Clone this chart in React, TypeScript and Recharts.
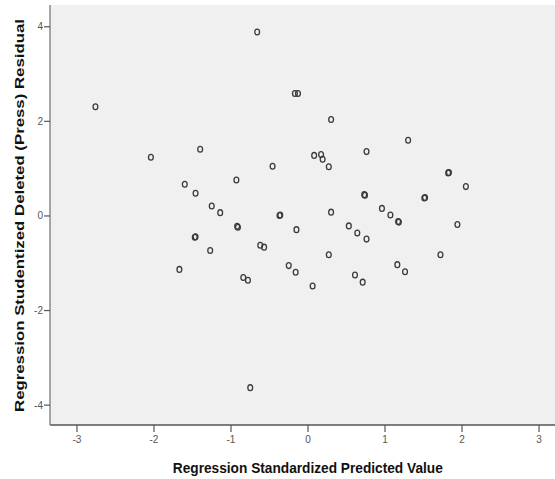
import React from 'react';
import { ScatterChart, Scatter, XAxis, YAxis, CartesianGrid } from 'recharts';

const predicted = [
  -2.76, -2.04, -1.40, -0.66, -1.60, -1.46, -0.93, -0.46, -1.25, -1.14,
  -0.92, -0.91, -0.37, -0.36, -1.47, -1.46, -0.17, -0.13, 0.30, 1.30,
  0.76, 0.08, 0.17, 0.19, 0.27, 1.82, 1.83, 2.05, 0.73, 0.74,
  1.51, 1.52, 0.30, 0.96, 1.07, 1.17, 1.18, -0.15, 1.94, 0.53,
  0.64, 0.76, -1.27, -0.62, -0.57, 0.27, 1.72, -1.67, -0.84, -0.78,
  -0.25, -0.16, 0.06, 0.61, 0.71, 1.16, 1.26, -0.75,
];
const residual = [
  2.31, 1.24, 1.41, 3.89, 0.67, 0.48, 0.76, 1.05, 0.21, 0.07,
  -0.22, -0.24, 0.01, 0.02, -0.45, -0.44, 2.59, 2.59, 2.04, 1.60,
  1.36, 1.28, 1.30, 1.20, 1.04, 0.91, 0.92, 0.62, 0.45, 0.44,
  0.38, 0.39, 0.08, 0.16, 0.02, -0.12, -0.13, -0.29, -0.18, -0.21,
  -0.36, -0.49, -0.73, -0.62, -0.66, -0.82, -0.82, -1.13, -1.30, -1.36,
  -1.05, -1.19, -1.48, -1.25, -1.40, -1.03, -1.18, -3.63,
];
const xTicks = [-3, -2, -1, 0, 1, 2, 3];
const yTicks = [-4, -2, 0, 2, 4];
const xTitle = 'Regression Standardized Predicted Value';
const yTitle = 'Regression Studentized Deleted (Press) Residual';

const data = predicted.map((x, i) => ({ x, y: residual[i] }));

const FONT = '"Liberation Sans", Arial, sans-serif';

const Marker = (props: any) => {
  const { cx, cy } = props;
  if (cx == null || cy == null) return null;
  return (
    <ellipse cx={cx} cy={cy} rx={2.4} ry={2.9} fill="none" stroke="#3a3a3a" strokeWidth={1.3} />
  );
};

const YTitle = () => (
  <text
    x={24}
    y={215.5}
    transform="rotate(-90, 24, 215.5)"
    textAnchor="middle"
    fontFamily={FONT}
    fontWeight="bold"
    fontSize={12}
    fill="#111"
    textLength={393}
    lengthAdjust="spacingAndGlyphs"
  >
    {yTitle}
  </text>
);

const XTitle = () => (
  <text
    x={307.8}
    y={473}
    textAnchor="middle"
    fontFamily={FONT}
    fontWeight="bold"
    fontSize={15}
    fill="#111"
    textLength={270}
    lengthAdjust="spacingAndGlyphs"
  >
    {xTitle}
  </text>
);

export default function App() {
  return (
    <div
      style={{
        position: 'absolute',
        left: 0,
        top: 0,
        width: 555,
        height: 479,
        overflow: 'hidden',
        background: '#fff',
      }}
    >
      <ScatterChart
        width={566}
        height={479}
        margin={{ top: 5, right: 0, bottom: 0, left: 0 }}
      >
        <CartesianGrid fill="#f0f0f0" horizontal={false} vertical={false} stroke="none" />
        <XAxis
          xAxisId="top"
          orientation="top"
          type="number"
          dataKey="x"
          domain={[-3.35, 3.35]}
          height={0}
          tick={false}
          tickLine={false}
          axisLine={{ stroke: '#9a9a9a', strokeWidth: 2 }}
        />
        <XAxis
          type="number"
          dataKey="x"
          domain={[-3.35, 3.35]}
          ticks={xTicks}
          height={54}
          tickSize={7}
          tickMargin={4}
          tick={{ fill: '#555', fontSize: 10, fontFamily: FONT }}
          tickLine={{ stroke: '#555', strokeWidth: 1.2 }}
          axisLine={{ stroke: '#555', strokeWidth: 1.5 }}
          interval={0}
          label={{ content: () => <XTitle /> }}
        />
        <YAxis
          type="number"
          dataKey="y"
          domain={[-4.42, 4.46]}
          ticks={yTicks}
          width={50}
          tickSize={6}
          tickMargin={1}
          tick={{ fill: '#555', fontSize: 10, fontFamily: FONT }}
          tickLine={{ stroke: '#555', strokeWidth: 1.2 }}
          axisLine={{ stroke: '#8a8a8a', strokeWidth: 1.5 }}
          interval={0}
          label={{ content: () => <YTitle /> }}
        />
        <Scatter data={data} shape={<Marker />} isAnimationActive={false} />
      </ScatterChart>
    </div>
  );
}
